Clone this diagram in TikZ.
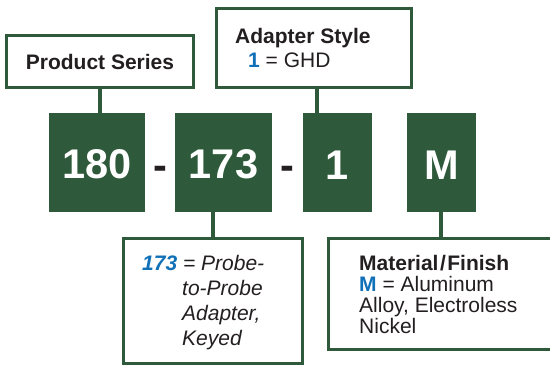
\documentclass[tikz,border=0pt]{standalone}
\usepackage{fontspec}
\setmainfont{Liberation Sans}
\usetikzlibrary{positioning, calc}
\definecolor{pgreen}{RGB}{46,89,58}
\definecolor{pblue}{RGB}{16,112,184}
\definecolor{ptext}{RGB}{35,31,32}

\begin{document}
\begin{tikzpicture}[x=1pt, y=-1pt,
	codebox/.style={fill=pgreen, text=white, inner sep=0, minimum height=99pt, text height=33pt,
		font=\fontsize{41.5}{41.5}\selectfont\bfseries},
	sepsign/.style={anchor=base, inner sep=0, text=ptext, font=\fontsize{41.5}{41.5}\selectfont\bfseries},
	infobox/.style={draw=pgreen, line width=3pt, fill=white, inner sep=0, text=ptext,
		font=\fontsize{21}{25}\selectfont},
	txt/.style={anchor=base west, inner sep=0, text=ptext, font=\fontsize{21}{25}\selectfont},
	conn/.style={draw=pgreen, line width=4pt}]
	\useasboundingbox (0,0) rectangle (550,367);
	\clip (0,0) rectangle (550,367);
	% part number
	\node[codebox, minimum width=96pt] (b180) at (97,162.5) {180};
	\node[codebox, minimum width=97pt] (b173) at (223.5,162.5) {173};
	\node[codebox, minimum width=69pt] (b1) at (337.5,162.5) {1};
	\node[codebox, minimum width=69pt] (bM) at (441.5,162.5) {M};
	\node[sepsign] (d1) at ($(b180.east)!0.5!(b173.west)+(0,16.5)$) {-};
	\node[sepsign] (d2) at ($(b173.east)!0.5!(b1.west)+(0,16.5)$) {-};
	% boxes
	\node[infobox, minimum width=187pt, minimum height=52pt] (ps) at (100,61.5) {\bfseries Product Series};
	\node[infobox, minimum width=195pt, minimum height=79pt] (as) at (314,48) {};
	\node[infobox, minimum width=179pt, minimum height=125pt] (pb) at (213,301) {};
	\node[infobox, minimum width=225pt, minimum height=111pt] (mf) at (441,294) {};
	% texts
	\node[txt] (as1) at (235,43) {\bfseries Adapter Style};
	\node[txt] (as2) at (248,67) {\textcolor{pblue}{\bfseries 1} = GHD};
	\node[txt] (pb1) at (142,270) {\itshape\textcolor{pblue}{\bfseries 173} = Probe-};
	\node[txt] (pb2) at (182,295) {\itshape to-Probe};
	\node[txt] (pb3) at (182,320) {\itshape Adapter,};
	\node[txt] (pb4) at (182,345) {\itshape Keyed};
	\node[txt] (mf1) at (359,270) {\bfseries Material\kern1.5pt/\kern1.5pt Finish};
	\node[txt] (mf2) at (359,291) {\textcolor{pblue}{\bfseries M} = Aluminum};
	\node[txt] (mf3) at (359,312) {Alloy, Electroless};
	\node[txt] (mf4) at (359,333) {Nickel};
	% connectors
	\draw[conn] (ps.south) -- (ps.south |- b180.north);
	\draw[conn] ([xshift=3pt]as.south) -- ([xshift=3pt]as.south |- b1.north);
	\draw[conn] (pb.north) -- (pb.north |- b173.south);
	\draw[conn] (mf.north) -- (mf.north |- bM.south);
\end{tikzpicture}
\end{document}
